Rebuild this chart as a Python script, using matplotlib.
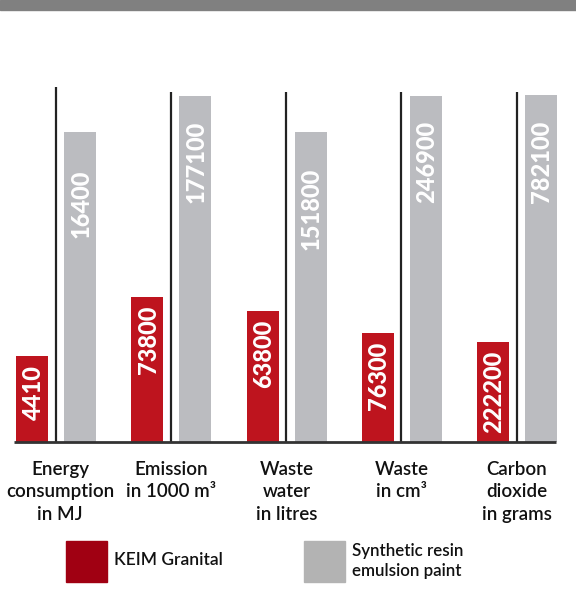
import numpy as np
import matplotlib
matplotlib.use("Agg")
import matplotlib.pyplot as plt
from matplotlib.patches import Rectangle

categories = ["Energy\nconsumption\nin MJ", "Emission\nin 1000 m\u00b3", "Waste\nwater\nin litres",
              "Waste\nin cm\u00b3", "Carbon\ndioxide\nin grams"]
keim_labels = ["4410", "73800", "63800", "76300", "222200"]
resin_labels = ["16400", "177100", "151800", "246900", "782100"]
# bar heights as drawn (not to scale with the numbers)
keim_heights = [86, 145, 131, 109, 100]
resin_heights = [310, 346, 310, 346, 347]
divider_heights = [355, 350, 350, 350, 350]

red = "#be141e"
gray = "#bbbcc0"
label_font = ["Lato", "DejaVu Sans"]

fig = plt.figure(figsize=(5.76, 6.03), dpi=100)
ax = fig.add_axes([0, 0, 1, 1])
ax.set_xlim(0, 576)
ax.set_ylim(0, 603)
ax.axis("off")

base = 603 - 442
step = 115.25
x0 = np.arange(len(categories)) * step + 16
bw = 32

ax.bar(x0, keim_heights, width=bw, bottom=base, color=red, align="edge", zorder=2)
ax.bar(x0 + 48, resin_heights, width=bw, bottom=base, color=gray, align="edge", zorder=2)
ax.vlines(x0 + 39.5, base, base + np.array(divider_heights), color="#222222", lw=1.6, zorder=3)
ax.hlines(base, 14, 556, color="#333333", lw=2, zorder=3)

# top band
ax.add_patch(Rectangle((0, 593), 576, 10, color="#808080", clip_on=False))

gray_pad = [38, 25, 36, 25, 26]
for i in range(len(categories)):
    ax.text(x0[i] + bw / 2 + 1, base + keim_heights[i] - 9, keim_labels[i], rotation=90,
            ha="center", va="top", color="white", fontsize=17, family=label_font,
            fontweight="black")
    ax.text(x0[i] + 48 + bw / 2 + 1, base + resin_heights[i] - gray_pad[i], resin_labels[i],
            rotation=90, ha="center", va="top", color="white", fontsize=17, family=label_font,
            fontweight="black")
    cx = x0[i] + 40 + (4 if i == 0 else 0)
    ax.text(cx, 603 - 461, categories[i], ha="center", va="top", fontsize=13.5,
            family=label_font, fontweight="semibold", linespacing=1.38, color="#111111")

# legend
ax.add_patch(Rectangle((66, 603 - 582), 41, 41, color="#a00012"))
ax.text(114, 603 - 560, "KEIM Granital", ha="left", va="center", fontsize=12.5,
        family=label_font, fontweight="semibold", color="#111111")
ax.add_patch(Rectangle((304, 603 - 582), 41, 41, color="#b3b3b3"))
ax.text(352, 603 - 561, "Synthetic resin\nemulsion paint", ha="left", va="center",
        fontsize=12.2, family=label_font, fontweight="semibold", linespacing=1.3, color="#111111")

fig.savefig("out.png", dpi=100)
